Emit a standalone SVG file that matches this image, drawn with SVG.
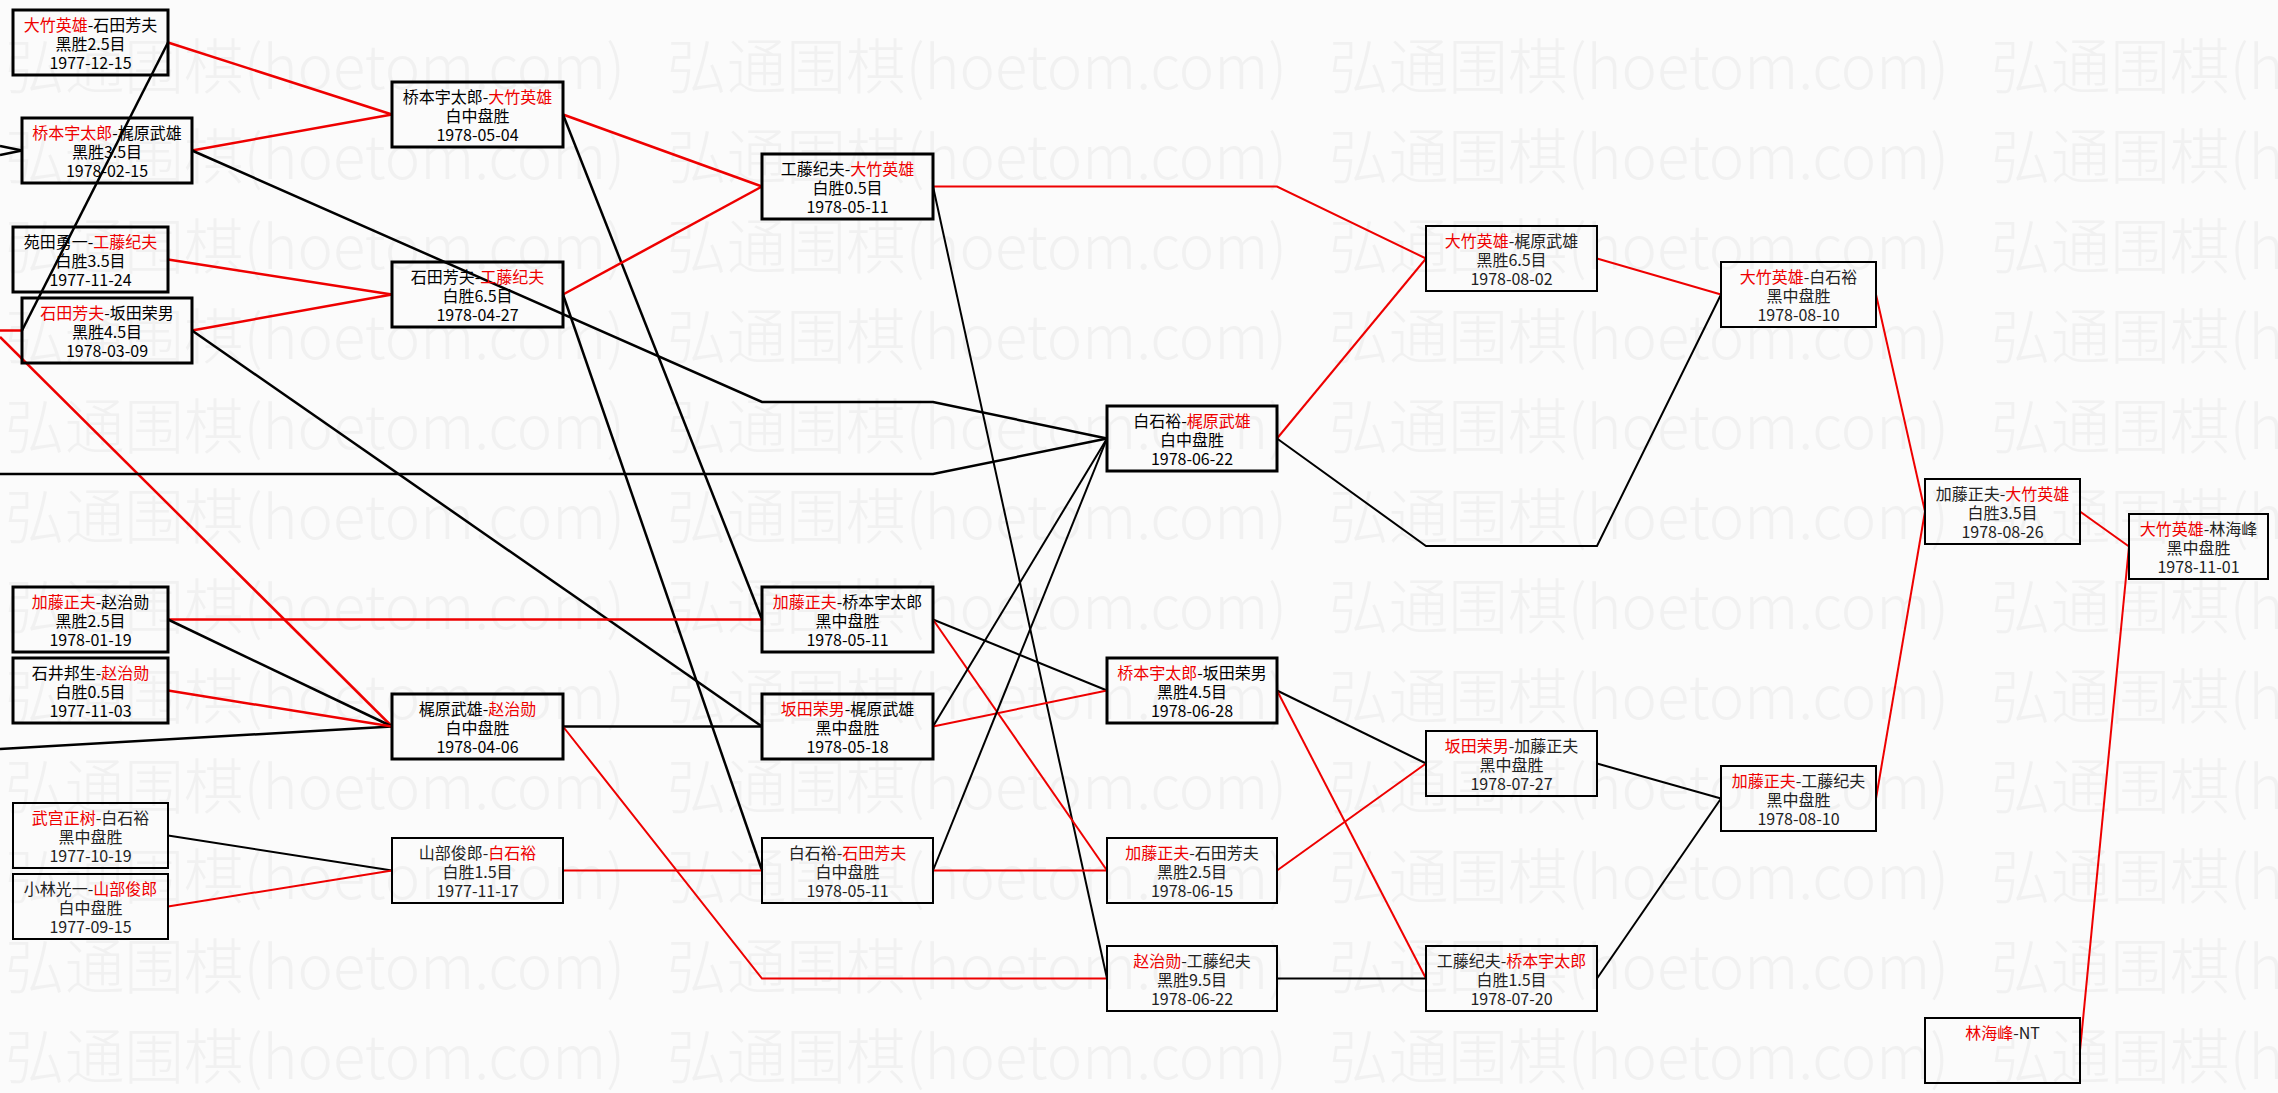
<svg xmlns="http://www.w3.org/2000/svg" width="2278" height="1093" viewBox="0 0 2278 1093">
<defs>
<style>
.wm text{font-family:"Noto Sans CJK SC",sans-serif;font-size:60px;font-weight:300;fill:#f1f1f1}
.n rect{fill:none;stroke:#000;stroke-width:3}
.n.s rect{stroke-width:2}
.n text{font-family:"Noto Sans CJK SC",sans-serif;font-size:16px;text-anchor:middle;fill:#000}
.n.s text{fill:#222}
.n .r{fill:#e00}
.c path{fill:none;stroke-width:2;stroke-linejoin:miter}
.c .w{stroke-width:2.5}
.c .k{stroke:#000}
.c .d{stroke:#e00}
</style>
</defs>
<rect x="0" y="0" width="2278" height="1093" fill="#fbfbfb"/>
<g class="wm">
<text x="5" y="89" textLength="620" lengthAdjust="spacingAndGlyphs">弘通围棋(hoetom.com)</text>
<text x="667" y="89" textLength="620" lengthAdjust="spacingAndGlyphs">弘通围棋(hoetom.com)</text>
<text x="1329" y="89" textLength="620" lengthAdjust="spacingAndGlyphs">弘通围棋(hoetom.com)</text>
<text x="1991" y="89" textLength="620" lengthAdjust="spacingAndGlyphs">弘通围棋(hoetom.com)</text>
<text x="5" y="179" textLength="620" lengthAdjust="spacingAndGlyphs">弘通围棋(hoetom.com)</text>
<text x="667" y="179" textLength="620" lengthAdjust="spacingAndGlyphs">弘通围棋(hoetom.com)</text>
<text x="1329" y="179" textLength="620" lengthAdjust="spacingAndGlyphs">弘通围棋(hoetom.com)</text>
<text x="1991" y="179" textLength="620" lengthAdjust="spacingAndGlyphs">弘通围棋(hoetom.com)</text>
<text x="5" y="269" textLength="620" lengthAdjust="spacingAndGlyphs">弘通围棋(hoetom.com)</text>
<text x="667" y="269" textLength="620" lengthAdjust="spacingAndGlyphs">弘通围棋(hoetom.com)</text>
<text x="1329" y="269" textLength="620" lengthAdjust="spacingAndGlyphs">弘通围棋(hoetom.com)</text>
<text x="1991" y="269" textLength="620" lengthAdjust="spacingAndGlyphs">弘通围棋(hoetom.com)</text>
<text x="5" y="359" textLength="620" lengthAdjust="spacingAndGlyphs">弘通围棋(hoetom.com)</text>
<text x="667" y="359" textLength="620" lengthAdjust="spacingAndGlyphs">弘通围棋(hoetom.com)</text>
<text x="1329" y="359" textLength="620" lengthAdjust="spacingAndGlyphs">弘通围棋(hoetom.com)</text>
<text x="1991" y="359" textLength="620" lengthAdjust="spacingAndGlyphs">弘通围棋(hoetom.com)</text>
<text x="5" y="449" textLength="620" lengthAdjust="spacingAndGlyphs">弘通围棋(hoetom.com)</text>
<text x="667" y="449" textLength="620" lengthAdjust="spacingAndGlyphs">弘通围棋(hoetom.com)</text>
<text x="1329" y="449" textLength="620" lengthAdjust="spacingAndGlyphs">弘通围棋(hoetom.com)</text>
<text x="1991" y="449" textLength="620" lengthAdjust="spacingAndGlyphs">弘通围棋(hoetom.com)</text>
<text x="5" y="539" textLength="620" lengthAdjust="spacingAndGlyphs">弘通围棋(hoetom.com)</text>
<text x="667" y="539" textLength="620" lengthAdjust="spacingAndGlyphs">弘通围棋(hoetom.com)</text>
<text x="1329" y="539" textLength="620" lengthAdjust="spacingAndGlyphs">弘通围棋(hoetom.com)</text>
<text x="1991" y="539" textLength="620" lengthAdjust="spacingAndGlyphs">弘通围棋(hoetom.com)</text>
<text x="5" y="629" textLength="620" lengthAdjust="spacingAndGlyphs">弘通围棋(hoetom.com)</text>
<text x="667" y="629" textLength="620" lengthAdjust="spacingAndGlyphs">弘通围棋(hoetom.com)</text>
<text x="1329" y="629" textLength="620" lengthAdjust="spacingAndGlyphs">弘通围棋(hoetom.com)</text>
<text x="1991" y="629" textLength="620" lengthAdjust="spacingAndGlyphs">弘通围棋(hoetom.com)</text>
<text x="5" y="719" textLength="620" lengthAdjust="spacingAndGlyphs">弘通围棋(hoetom.com)</text>
<text x="667" y="719" textLength="620" lengthAdjust="spacingAndGlyphs">弘通围棋(hoetom.com)</text>
<text x="1329" y="719" textLength="620" lengthAdjust="spacingAndGlyphs">弘通围棋(hoetom.com)</text>
<text x="1991" y="719" textLength="620" lengthAdjust="spacingAndGlyphs">弘通围棋(hoetom.com)</text>
<text x="5" y="809" textLength="620" lengthAdjust="spacingAndGlyphs">弘通围棋(hoetom.com)</text>
<text x="667" y="809" textLength="620" lengthAdjust="spacingAndGlyphs">弘通围棋(hoetom.com)</text>
<text x="1329" y="809" textLength="620" lengthAdjust="spacingAndGlyphs">弘通围棋(hoetom.com)</text>
<text x="1991" y="809" textLength="620" lengthAdjust="spacingAndGlyphs">弘通围棋(hoetom.com)</text>
<text x="5" y="899" textLength="620" lengthAdjust="spacingAndGlyphs">弘通围棋(hoetom.com)</text>
<text x="667" y="899" textLength="620" lengthAdjust="spacingAndGlyphs">弘通围棋(hoetom.com)</text>
<text x="1329" y="899" textLength="620" lengthAdjust="spacingAndGlyphs">弘通围棋(hoetom.com)</text>
<text x="1991" y="899" textLength="620" lengthAdjust="spacingAndGlyphs">弘通围棋(hoetom.com)</text>
<text x="5" y="989" textLength="620" lengthAdjust="spacingAndGlyphs">弘通围棋(hoetom.com)</text>
<text x="667" y="989" textLength="620" lengthAdjust="spacingAndGlyphs">弘通围棋(hoetom.com)</text>
<text x="1329" y="989" textLength="620" lengthAdjust="spacingAndGlyphs">弘通围棋(hoetom.com)</text>
<text x="1991" y="989" textLength="620" lengthAdjust="spacingAndGlyphs">弘通围棋(hoetom.com)</text>
<text x="5" y="1079" textLength="620" lengthAdjust="spacingAndGlyphs">弘通围棋(hoetom.com)</text>
<text x="667" y="1079" textLength="620" lengthAdjust="spacingAndGlyphs">弘通围棋(hoetom.com)</text>
<text x="1329" y="1079" textLength="620" lengthAdjust="spacingAndGlyphs">弘通围棋(hoetom.com)</text>
<text x="1991" y="1079" textLength="620" lengthAdjust="spacingAndGlyphs">弘通围棋(hoetom.com)</text>
</g>
<g id="connectors" class="c">
<path class="k w" d="M0 146L22 150.5"/>
<path class="k w" d="M0 155L22 150.5"/>
<path class="d w" d="M0 330.5L22 330.5"/>
<path class="d w" d="M0 337L392 726.5"/>
<path class="k w" d="M0 474L933 474L1107 438.5"/>
<path class="k w" d="M0 749L392 726.5"/>
<path class="d w" d="M168 42.5L392 114.5"/>
<path class="k w" d="M168 42.5L22 330.5"/>
<path class="d w" d="M192 150.5L392 114.5"/>
<path class="k w" d="M192 150.5L762 402L933 402L1107 438.5"/>
<path class="d w" d="M168 259.5L392 294.5"/>
<path class="d w" d="M192 330.5L392 294.5"/>
<path class="k w" d="M192 330.5L762 726.5"/>
<path class="d w" d="M563 114.5L762 186.5"/>
<path class="k w" d="M563 114.5L762 619.5"/>
<path class="d w" d="M563 294.5L762 186.5"/>
<path class="k w" d="M563 294.5L762 870.5"/>
<path class="d w" d="M168 619.5L762 619.5"/>
<path class="k w" d="M168 619.5L392 726.5"/>
<path class="d w" d="M168 690.5L392 726.5"/>
<path class="k w" d="M563 726.5L762 726.5"/>
<path class="d" d="M563 726.5L762 978.5L1107 978.5"/>
<path class="k" d="M168 835.5L392 870.5"/>
<path class="d" d="M168 906.5L392 870.5"/>
<path class="d" d="M563 870.5L762 870.5"/>
<path class="d" d="M933 186.5L1277 186.5L1426 258.5"/>
<path class="k" d="M933 186.5L1107 978.5"/>
<path class="d" d="M1277 438.5L1426 258.5"/>
<path class="k" d="M1277 438.5L1426 546L1597 546L1721 294.5"/>
<path class="k" d="M933 619.5L1107 690.5"/>
<path class="d" d="M933 619.5L1107 870.5"/>
<path class="k" d="M933 726.5L1107 438.5"/>
<path class="d" d="M933 726.5L1107 690.5"/>
<path class="k" d="M933 870.5L1107 438.5"/>
<path class="d" d="M933 870.5L1107 870.5"/>
<path class="k" d="M1277 690.5L1426 763.5"/>
<path class="d" d="M1277 690.5L1426 978.5"/>
<path class="d" d="M1277 870.5L1426 763.5"/>
<path class="k" d="M1277 978.5L1426 978.5"/>
<path class="d" d="M1597 258.5L1721 294.5"/>
<path class="d" d="M1876 294.5L1925 511.5"/>
<path class="k" d="M1597 763.5L1721 798.5"/>
<path class="k" d="M1597 978.5L1721 798.5"/>
<path class="d" d="M1876 798.5L1925 511.5"/>
<path class="d" d="M2080 511.5L2129 546.5"/>
<path class="d" d="M2080 1050.5L2129 546.5"/>
</g>
<g id="n-A" class="n"><rect x="13" y="10" width="155" height="65"/><text x="90.5" y="31"><tspan class="r">大竹英雄</tspan>-石田芳夫</text><text x="90.5" y="50">黑胜2.5目</text><text x="90.5" y="68.5">1977-12-15</text></g>
<g id="n-B" class="n"><rect x="22" y="118" width="170" height="65"/><text x="107" y="139"><tspan class="r">桥本宇太郎</tspan>-梶原武雄</text><text x="107" y="158">黑胜3.5目</text><text x="107" y="176.5">1978-02-15</text></g>
<g id="n-C" class="n"><rect x="13" y="227" width="155" height="65"/><text x="90.5" y="248">苑田勇一-<tspan class="r">工藤纪夫</tspan></text><text x="90.5" y="267">白胜3.5目</text><text x="90.5" y="285.5">1977-11-24</text></g>
<g id="n-D" class="n"><rect x="22" y="298" width="170" height="65"/><text x="107" y="319"><tspan class="r">石田芳夫</tspan>-坂田荣男</text><text x="107" y="338">黑胜4.5目</text><text x="107" y="356.5">1978-03-09</text></g>
<g id="n-E" class="n"><rect x="392" y="82" width="171" height="65"/><text x="477.5" y="103">桥本宇太郎-<tspan class="r">大竹英雄</tspan></text><text x="477.5" y="122">白中盘胜</text><text x="477.5" y="140.5">1978-05-04</text></g>
<g id="n-F" class="n"><rect x="392" y="262" width="171" height="65"/><text x="477.5" y="283">石田芳夫-<tspan class="r">工藤纪夫</tspan></text><text x="477.5" y="302">白胜6.5目</text><text x="477.5" y="320.5">1978-04-27</text></g>
<g id="n-G" class="n"><rect x="13" y="587" width="155" height="65"/><text x="90.5" y="608"><tspan class="r">加藤正夫</tspan>-赵治勋</text><text x="90.5" y="627">黑胜2.5目</text><text x="90.5" y="645.5">1978-01-19</text></g>
<g id="n-H" class="n"><rect x="13" y="658" width="155" height="65"/><text x="90.5" y="679">石井邦生-<tspan class="r">赵治勋</tspan></text><text x="90.5" y="698">白胜0.5目</text><text x="90.5" y="716.5">1977-11-03</text></g>
<g id="n-I" class="n"><rect x="392" y="694" width="171" height="65"/><text x="477.5" y="715">梶原武雄-<tspan class="r">赵治勋</tspan></text><text x="477.5" y="734">白中盘胜</text><text x="477.5" y="752.5">1978-04-06</text></g>
<g id="n-J" class="n s"><rect x="13" y="803" width="155" height="65"/><text x="90.5" y="824"><tspan class="r">武宫正树</tspan>-白石裕</text><text x="90.5" y="843">黑中盘胜</text><text x="90.5" y="861.5">1977-10-19</text></g>
<g id="n-K" class="n s"><rect x="13" y="874" width="155" height="65"/><text x="90.5" y="895">小林光一-<tspan class="r">山部俊郎</tspan></text><text x="90.5" y="914">白中盘胜</text><text x="90.5" y="932.5">1977-09-15</text></g>
<g id="n-L" class="n s"><rect x="392" y="838" width="171" height="65"/><text x="477.5" y="859">山部俊郎-<tspan class="r">白石裕</tspan></text><text x="477.5" y="878">白胜1.5目</text><text x="477.5" y="896.5">1977-11-17</text></g>
<g id="n-M" class="n"><rect x="762" y="154" width="171" height="65"/><text x="847.5" y="175">工藤纪夫-<tspan class="r">大竹英雄</tspan></text><text x="847.5" y="194">白胜0.5目</text><text x="847.5" y="212.5">1978-05-11</text></g>
<g id="n-N" class="n"><rect x="1107" y="406" width="170" height="65"/><text x="1192" y="427">白石裕-<tspan class="r">梶原武雄</tspan></text><text x="1192" y="446">白中盘胜</text><text x="1192" y="464.5">1978-06-22</text></g>
<g id="n-O" class="n"><rect x="762" y="587" width="171" height="65"/><text x="847.5" y="608"><tspan class="r">加藤正夫</tspan>-桥本宇太郎</text><text x="847.5" y="627">黑中盘胜</text><text x="847.5" y="645.5">1978-05-11</text></g>
<g id="n-P" class="n"><rect x="1107" y="658" width="170" height="65"/><text x="1192" y="679"><tspan class="r">桥本宇太郎</tspan>-坂田荣男</text><text x="1192" y="698">黑胜4.5目</text><text x="1192" y="716.5">1978-06-28</text></g>
<g id="n-Q" class="n"><rect x="762" y="694" width="171" height="65"/><text x="847.5" y="715"><tspan class="r">坂田荣男</tspan>-梶原武雄</text><text x="847.5" y="734">黑中盘胜</text><text x="847.5" y="752.5">1978-05-18</text></g>
<g id="n-R" class="n s"><rect x="762" y="838" width="171" height="65"/><text x="847.5" y="859">白石裕-<tspan class="r">石田芳夫</tspan></text><text x="847.5" y="878">白中盘胜</text><text x="847.5" y="896.5">1978-05-11</text></g>
<g id="n-S" class="n s"><rect x="1107" y="838" width="170" height="65"/><text x="1192" y="859"><tspan class="r">加藤正夫</tspan>-石田芳夫</text><text x="1192" y="878">黑胜2.5目</text><text x="1192" y="896.5">1978-06-15</text></g>
<g id="n-T" class="n s"><rect x="1107" y="946" width="170" height="65"/><text x="1192" y="967"><tspan class="r">赵治勋</tspan>-工藤纪夫</text><text x="1192" y="986">黑胜9.5目</text><text x="1192" y="1004.5">1978-06-22</text></g>
<g id="n-U" class="n s"><rect x="1426" y="226" width="171" height="65"/><text x="1511.5" y="247"><tspan class="r">大竹英雄</tspan>-梶原武雄</text><text x="1511.5" y="266">黑胜6.5目</text><text x="1511.5" y="284.5">1978-08-02</text></g>
<g id="n-V" class="n s"><rect x="1721" y="262" width="155" height="65"/><text x="1798.5" y="283"><tspan class="r">大竹英雄</tspan>-白石裕</text><text x="1798.5" y="302">黑中盘胜</text><text x="1798.5" y="320.5">1978-08-10</text></g>
<g id="n-W" class="n s"><rect x="1925" y="479" width="155" height="65"/><text x="2002.5" y="500">加藤正夫-<tspan class="r">大竹英雄</tspan></text><text x="2002.5" y="519">白胜3.5目</text><text x="2002.5" y="537.5">1978-08-26</text></g>
<g id="n-X" class="n s"><rect x="1426" y="731" width="171" height="65"/><text x="1511.5" y="752"><tspan class="r">坂田荣男</tspan>-加藤正夫</text><text x="1511.5" y="771">黑中盘胜</text><text x="1511.5" y="789.5">1978-07-27</text></g>
<g id="n-Y" class="n s"><rect x="1721" y="766" width="155" height="65"/><text x="1798.5" y="787"><tspan class="r">加藤正夫</tspan>-工藤纪夫</text><text x="1798.5" y="806">黑中盘胜</text><text x="1798.5" y="824.5">1978-08-10</text></g>
<g id="n-Z" class="n s"><rect x="1426" y="946" width="171" height="65"/><text x="1511.5" y="967">工藤纪夫-<tspan class="r">桥本宇太郎</tspan></text><text x="1511.5" y="986">白胜1.5目</text><text x="1511.5" y="1004.5">1978-07-20</text></g>
<g id="n-AA" class="n s"><rect x="1925" y="1018" width="155" height="65"/><text x="2002.5" y="1039"><tspan class="r">林海峰</tspan>-NT</text></g>
<g id="n-AB" class="n s"><rect x="2129" y="514" width="139" height="65"/><text x="2198.5" y="535"><tspan class="r">大竹英雄</tspan>-林海峰</text><text x="2198.5" y="554">黑中盘胜</text><text x="2198.5" y="572.5">1978-11-01</text></g>
</svg>
